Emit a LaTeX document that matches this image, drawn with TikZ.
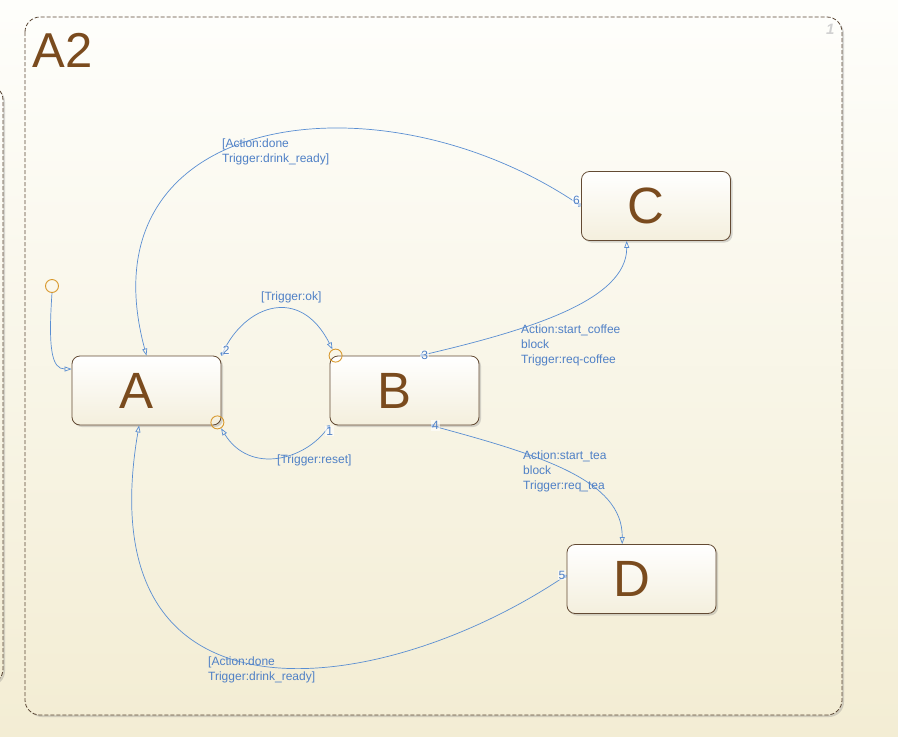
\documentclass[tikz,border=0pt]{standalone}
\usepackage{fontspec}
\setmainfont{Liberation Sans}
\usetikzlibrary{arrows.meta, shadows}
\definecolor{bgtop}{HTML}{FEFEFB}
\definecolor{bgbot}{HTML}{F3EDD4}
\definecolor{framec}{HTML}{5A4634}
\definecolor{edgec}{HTML}{634A33}
\definecolor{letterc}{HTML}{7A4B1E}
\definecolor{transc}{HTML}{5A8ED2}
\definecolor{textc}{HTML}{4F80C6}
\definecolor{juncc}{HTML}{D8982C}
\definecolor{statebot}{HTML}{F4EFDD}

\begin{document}
\begin{tikzpicture}
    [x=1pt, y=-1pt,
      chart/.style={draw=framec, line width=.8pt, dash pattern=on 4pt off 2pt,
        rounded corners=15pt, top color=bgtop, bottom color=bgbot,
        drop shadow={shadow xshift=2pt, shadow yshift=-2pt, opacity=.3}},
      state/.style={draw=edgec, line width=.8pt, rounded corners=8pt,
        minimum width=149pt, minimum height=69pt, inner sep=0,
        top color=white, bottom color=statebot,
        drop shadow={shadow xshift=2pt, shadow yshift=-2pt, opacity=.3}},
      big/.style={font=\fontsize{51}{51}\selectfont, text=letterc, xshift=-10pt},
      jn/.style={circle, draw=juncc, line width=.9pt, minimum size=13pt, inner sep=0},
      tr/.style={draw=transc, line width=.7pt,
        {Circle[length=4pt]}-{Triangle[open, length=7pt, width=5pt]}},
      num/.style={text=textc, font=\fontsize{12}{12}\selectfont, inner sep=1pt,
        fill=white, fill opacity=.6, text opacity=1},
      lbl/.style={text=textc, font=\fontsize{12}{15}\selectfont, inner sep=0,
        anchor=north west, align=left}]
    \useasboundingbox (0,0) rectangle (898,737);
    \clip (0,0) rectangle (898,737);
    \shade[top color=bgtop, bottom color=bgbot] (0,0) rectangle (898,737);
    \path[chart] (-120,85) rectangle (3,684);
    \path[chart] (25,17) rectangle (842,715);
    \node[anchor=base west, font=\fontsize{49}{49}\selectfont, text=letterc] (title) at (29,67) {A2};
    \node[anchor=north east, font=\bfseries\itshape\fontsize{15}{15}\selectfont, text=black!18] (order) at (838,21) {1};

    \node[state, label={[big]center:A}] (A) at (146.5,390.5) {};
    \node[state, label={[big]center:B}] (B) at (404.5,390.5) {};
    \node[state, label={[big]center:C}] (C) at (656,206) {};
    \node[state, label={[big]center:D}] (D) at (641.5,579) {};

    \node[jn] (init) at (52,286) {};
    \node[jn, xshift=6pt] (okj) at (B.north west) {};
    \node[jn, xshift=-4pt, yshift=3pt] (rsj) at (A.south east) {};

    \draw[tr, -{Triangle[open, length=7pt, width=5pt]}] (init.south) .. controls (48,350) and (52,369) .. (A.164);
    \draw[tr] (A.north east) node[num, above right] {2} .. controls (245,305) and (300,285) .. (okj);
    \draw[tr] (B.south west) node[num, below] {1} .. controls (305,460) and (250,475) .. (rsj);
    \draw[tr] (B.66) node[num, right] {3} .. controls (530,330) and (627,300) .. (C.230);
    \draw[tr] (B.-53) node[num, right] {4} .. controls (540,455) and (623,480) .. (D.119);
    \draw[tr] (C.west) node[num, above left] {6} .. controls (380,70) and (80,110) .. (A.north);
    \draw[tr] (D.177) node[num, left] {5} .. controls (380,700) and (85,740) .. (A.258);

    \node[lbl] (ok) at (261,292) {[Trigger:ok]};
    \node[lbl] (reset) at (277,455) {[Trigger:reset]};
    \node[lbl] (coffee) at (521,325) {Action:start\_coffee\\block\\Trigger:req-coffee};
    \node[lbl] (tea) at (523,451) {Action:start\_tea\\block\\Trigger:req\_tea};
    \node[lbl] (donec) at (222,139) {[Action:done\\Trigger:drink\_ready]};
    \node[lbl] (doned) at (208,657) {[Action:done\\Trigger:drink\_ready]};
\end{tikzpicture}
\end{document}
